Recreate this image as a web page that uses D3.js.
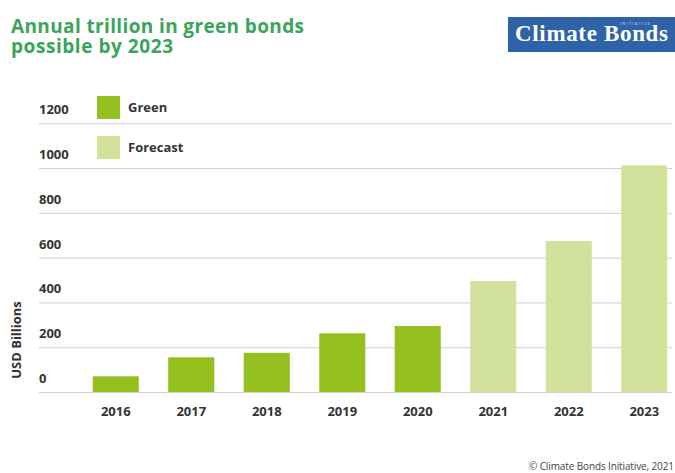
<!DOCTYPE html>
<html lang="en">
<head>
<meta charset="utf-8">
<title>Green bonds</title>
<script src="https://d3js.org/d3.v7.min.js"></script>
<style>
  body { margin: 0; background: #fff; }
  text { font-family: "Open Sans", "DejaVu Sans", sans-serif; }
</style>
</head>
<body>
<div id="viz"></div>
<script>
// data
var years = ["2016", "2017", "2018", "2019", "2020", "2021", "2022", "2023"];
var values = [70, 155, 175, 262, 295, 496, 674, 1012];
var kinds = ["Green", "Green", "Green", "Green", "Green", "Forecast", "Forecast", "Forecast"];
var yTicks = [0, 200, 400, 600, 800, 1000, 1200];
var legendItems = ["Green", "Forecast"];

var width = 675, height = 473;

var svg = d3.select("#viz").append("svg")
    .attr("width", width)
    .attr("height", height);

var color = d3.scaleOrdinal()
    .domain(legendItems)
    .range(["#93c01f", "#d2e29c"]);

var x = d3.scaleBand()
    .domain(years)
    .range([78, 682])
    .paddingInner(0.39)
    .paddingOuter(0.195);

var y = d3.scaleLinear()
    .domain([0, 1200])
    .range([392, 123.3]);

// gridlines + labels sitting above the lines
var grid = svg.append("g");
grid.selectAll("line")
    .data(yTicks)
    .enter().append("line")
    .attr("x1", 39).attr("x2", 672)
    .attr("y1", function(d) { return y(d) + 0.5; })
    .attr("y2", function(d) { return y(d) + 0.5; })
    .attr("stroke", "#d0d0d0")
    .attr("stroke-width", 1);
grid.selectAll("text")
    .data(yTicks)
    .enter().append("text")
    .attr("x", 39)
    .attr("y", function(d) { return y(d) - 9; })
    .attr("fill", "#333")
    .style("font-size", "13px")
    .style("font-weight", "bold")
    .text(function(d) { return d; });

// bars
svg.append("g").selectAll("rect")
    .data(years)
    .enter().append("rect")
    .attr("x", function(d) { return x(d); })
    .attr("width", x.bandwidth())
    .attr("y", function(d, i) { return y(values[i]); })
    .attr("height", function(d, i) { return y(0) - y(values[i]); })
    .attr("fill", function(d, i) { return color(kinds[i]); });

// x labels
svg.append("g").selectAll("text")
    .data(years)
    .enter().append("text")
    .attr("x", function(d) { return x(d) + x.bandwidth() / 2; })
    .attr("y", 416)
    .attr("text-anchor", "middle")
    .attr("fill", "#333")
    .style("font-size", "13px")
    .style("font-weight", "bold")
    .text(function(d) { return d; });

// y axis title
svg.append("text")
    .attr("transform", "translate(21,340) rotate(-90)")
    .attr("text-anchor", "middle")
    .attr("fill", "#333")
    .style("font-size", "13px")
    .style("font-weight", "bold")
    .text("USD Billions");

// legend
var legend = svg.append("g").selectAll("g")
    .data(legendItems)
    .enter().append("g")
    .attr("transform", function(d, i) { return "translate(97," + (96 + i * 40) + ")"; });
legend.append("rect")
    .attr("width", 23).attr("height", 23)
    .attr("fill", function(d) { return color(d); });
legend.append("text")
    .attr("x", 31).attr("y", 16)
    .attr("fill", "#333")
    .style("font-size", "13px")
    .style("font-weight", "bold")
    .text(function(d) { return d; });

// title
svg.append("text")
    .attr("x", 11).attr("y", 33)
    .attr("fill", "#3aa45b")
    .style("font-size", "19px")
    .style("font-weight", "bold")
    .attr("textLength", 293)
    .text("Annual trillion in green bonds");
svg.append("text")
    .attr("x", 11).attr("y", 53)
    .attr("fill", "#3aa45b")
    .style("font-size", "19px")
    .style("font-weight", "bold")
    .attr("textLength", 162)
    .text("possible by 2023");

// logo
svg.append("rect")
    .attr("x", 508).attr("y", 17)
    .attr("width", 167).attr("height", 35)
    .attr("fill", "#2f63a8");
svg.append("text")
    .attr("x", 515).attr("y", 41)
    .attr("fill", "#fff")
    .style("font-family", "'Liberation Serif', 'DejaVu Serif', serif")
    .style("font-size", "23px")
    .style("font-weight", "bold")
    .attr("textLength", 153)
    .text("Climate Bonds");
svg.append("text")
    .attr("x", 620).attr("y", 25)
    .attr("fill", "#cdd9ec")
    .style("font-size", "4px")
    .attr("textLength", 30)
    .text("INITIATIVE");

// source (clipped at the right edge as in the original)
svg.append("text")
    .attr("x", 529).attr("y", 470)
    .attr("fill", "#444")
    .style("font-size", "10px")
    .attr("textLength", 145)
    .text("\u00a9 Climate Bonds Initiative, 2021");
</script>
</body>
</html>
